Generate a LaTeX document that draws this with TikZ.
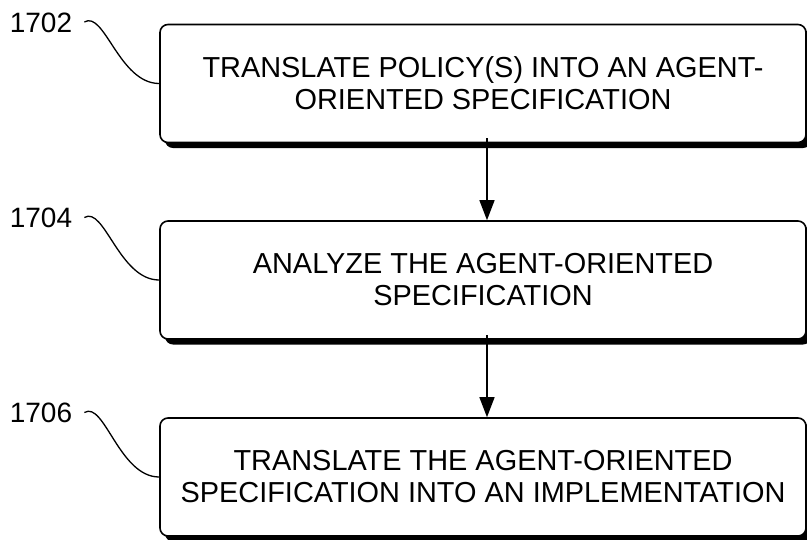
\documentclass[tikz,border=0pt]{standalone}
\usepackage{fontspec}
\setmainfont{Liberation Sans}
\usetikzlibrary{arrows.meta,shadows}
\begin{document}
\begin{tikzpicture}[x=1pt,y=-1pt,
  stepbox/.style={draw=black,line width=1.6pt,rounded corners=8pt,fill=white,
    minimum width=646pt,minimum height=118pt,inner sep=0pt,align=center,
    font=\fontsize{28.9}{32}\selectfont,
    drop shadow={shadow xshift=5pt,shadow yshift=-5.5pt,fill=black,opacity=1}},
  reflabel/.style={font=\fontsize{28}{30}\selectfont,inner sep=0pt,anchor=center},
  leader/.style={line width=1.3pt},
  flow/.style={line width=1.4pt,-{Triangle[width=15pt,length=20pt]}}]
\useasboundingbox (0,0) rectangle (807,539);
\clip (0,0) rectangle (807,539);
\node[stepbox] (b1) at (483,83.5) {TRANSLATE POLICY(S) INTO AN AGENT-\\ORIENTED SPECIFICATION};
\node[stepbox] (b2) at (483,280) {ANALYZE THE AGENT-ORIENTED\\SPECIFICATION};
\node[stepbox] (b3) at (483,477) {TRANSLATE THE AGENT-ORIENTED\\SPECIFICATION INTO AN IMPLEMENTATION};
\node[reflabel] (l1) at (41,22.5) {1702};
\node[reflabel] (l2) at (41,218) {1704};
\node[reflabel] (l3) at (41,413) {1706};
\draw[leader] ([xshift=12pt,yshift=0.5pt]l1.east) .. controls +(20,-12) and +(-40,0) .. (b1.west);
\draw[leader] ([xshift=12pt,yshift=0.5pt]l2.east) .. controls +(20,-12) and +(-40,0) .. (b2.west);
\draw[leader] ([xshift=12pt,yshift=0.5pt]l3.east) .. controls +(20,-12) and +(-40,0) .. (b3.west);
\draw[flow] ([xshift=4pt,yshift=5pt]b1.south) -- ([xshift=4pt]b2.north);
\draw[flow] ([xshift=4pt,yshift=5pt]b2.south) -- ([xshift=4pt]b3.north);
\end{tikzpicture}
\end{document}
